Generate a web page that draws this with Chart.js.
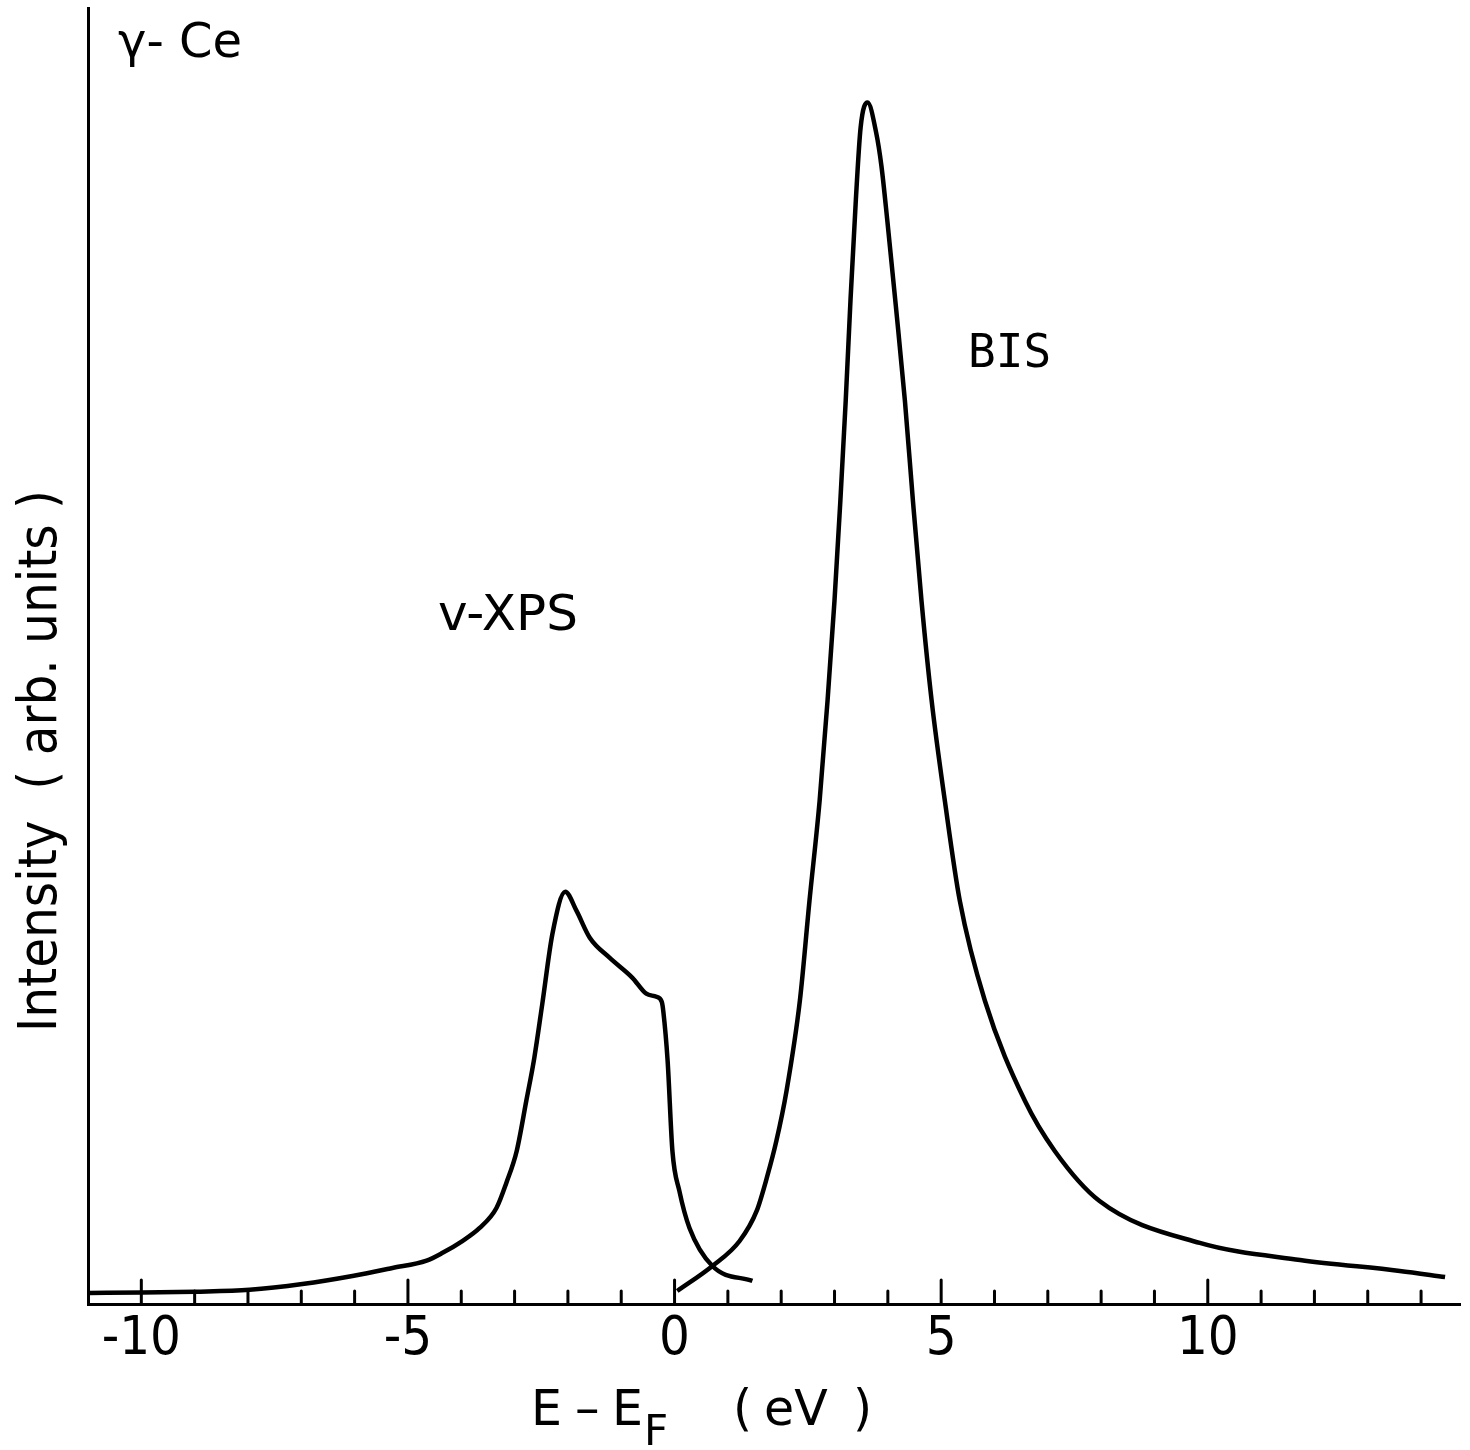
<!DOCTYPE html>
<html><head><meta charset="utf-8">
<script src="https://cdn.jsdelivr.net/npm/chart.js@4/dist/chart.umd.min.js"></script>
<style>html,body{margin:0;padding:0;background:#fff;} #c{display:block;}</style>
</head><body>
<canvas id="c" width="1470" height="1450"></canvas>
<script>
// ---- data ----
const xpsEnergy = [-10.98, -9.98, -8.99, -7.97, -6.98, -6.04, -5.29, -4.65, -4.35, -3.98, -3.66, -3.34, -3.15, -2.96, -2.78, -2.63, -2.48, -2.29, -2.05, -1.84, -1.59, -1.22, -0.79, -0.53, -0.34, -0.24, -0.21, -0.13, -0.04, 0.09, 0.28, 0.71, 1.46];
const xpsIntensity = [0.85, 0.88, 0.95, 1.10, 1.54, 2.16, 2.78, 3.35, 3.95, 4.86, 5.85, 7.41, 9.40, 11.81, 15.68, 19.00, 23.17, 28.57, 31.81, 30.35, 28.26, 26.72, 25.17, 23.94, 23.71, 23.32, 22.55, 18.76, 11.81, 8.73, 5.87, 2.93, 1.78];

const bisEnergy = [0.05, 0.71, 1.22, 1.54, 1.74, 1.91, 2.10, 2.35, 2.53, 2.72, 2.87, 3.00, 3.11, 3.21, 3.30, 3.40, 3.49, 3.62, 3.78, 3.88, 3.99, 4.15, 4.32, 4.47, 4.63, 4.82, 5.07, 5.35, 5.82, 6.57, 7.13, 7.97, 9.85, 11.73, 13.60, 14.45];
const bisIntensity = [1.0, 2.93, 4.86, 7.18, 9.88, 12.59, 16.45, 23.4, 31.1, 38.8, 46.6, 54.3, 62.0, 69.7, 77.5, 85.2, 90.8, 92.7, 90.4, 87.8, 83.6, 77.0, 69.7, 62.0, 54.3, 46.6, 38.8, 31.1, 23.4, 15.68, 11.81, 7.95, 4.71, 3.40, 2.55, 2.08];

const tickValues = [-10,-9,-8,-7,-6,-5,-4,-3,-2,-1,0,1,2,3,4,5,6,7,8,9,10,11,12,13,14];
const tickLabels = [-10,-5,0,5,10];
const majorTicks = [-10,-5,0,5,10];

const SANS = "'DejaVu Sans', sans-serif";
const COND = "'DejaVu Sans Condensed', 'DejaVu Sans', sans-serif";
const NARROW = "'Liberation Sans Narrow', 'DejaVu Sans Condensed', sans-serif";

const inwardTicks = {
  id: 'inwardTicks',
  afterDraw(chart) {
    const xs = chart.scales.x, ctx = chart.ctx;
    ctx.save();
    ctx.strokeStyle = '#000'; ctx.lineWidth = 3; ctx.lineCap = 'round';
    xs.ticks.forEach(t => {
      const px = xs.getPixelForValue(t.value);
      const len = majorTicks.includes(t.value) ? 24 : 13;
      ctx.beginPath(); ctx.moveTo(px, xs.top); ctx.lineTo(px, xs.top - len); ctx.stroke();
    });
    ctx.restore();
  }
};

const textPlugin = {
  id: 'texts',
  afterDraw(chart) {
    const ctx = chart.ctx;
    ctx.save();
    ctx.fillStyle = '#000';
    ctx.textBaseline = 'alphabetic';
    ctx.textAlign = 'left';
    // labels inside plot
    ctx.font = '48px ' + SANS;
    ctx.fillText('γ- Ce', 118, 57, 128);
    ctx.font = '50px ' + SANS;
    ctx.fillText('v-XPS', 438, 630, 150);
    ctx.font = '46px ' + "'DejaVu Sans Mono', monospace";
    ctx.fillText('BIS', 968, 367, 90);
    // x title
    ctx.font = '49px ' + SANS;
    ctx.fillText('E', 531, 1425);
    ctx.fillText('–', 575, 1425);
    ctx.fillText('E', 612, 1425);
    ctx.font = '42px ' + SANS;
    ctx.fillText('F', 644, 1445);
    ctx.font = '49px ' + SANS;
    ctx.fillText('(', 733, 1425);
    ctx.fillText('eV', 764, 1425);
    ctx.fillText(')', 853, 1425);
    // y title
    ctx.translate(56, 1032);
    ctx.rotate(-Math.PI / 2);
    ctx.font = '54px ' + COND;
    ctx.fillText('Intensity  ( arb. units )', 0, 0, 565);
    ctx.restore();
  }
};

new Chart(document.getElementById('c').getContext('2d'), {
  type: 'line',
  data: {
    datasets: [
      { label: 'v-XPS', data: xpsEnergy.map((x, i) => ({ x, y: xpsIntensity[i] })),
        borderColor: '#000', borderWidth: 4.5, pointRadius: 0, fill: false, cubicInterpolationMode: 'monotone' },
      { label: 'BIS', data: bisEnergy.map((x, i) => ({ x, y: bisIntensity[i] })),
        borderColor: '#000', borderWidth: 4.5, pointRadius: 0, fill: false, cubicInterpolationMode: 'monotone' }
    ]
  },
  options: {
    responsive: false, animation: false, devicePixelRatio: 1,
    layout: { padding: { top: 8, right: 10, left: 0, bottom: 0 } },
    plugins: { legend: { display: false }, tooltip: { enabled: false } },
    scales: {
      x: {
        type: 'linear', min: -11, max: 14.73,
        grid: { display: false, drawTicks: false },
        border: { display: true, color: '#000', width: 3 },
        afterBuildTicks: s => { s.ticks = tickValues.map(v => ({ value: v })); },
        afterFit: s => { s.height = 146; },
        ticks: {
          autoSkip: false, maxRotation: 0, minRotation: 0, padding: 4, color: '#000',
          font: { family: NARROW, size: 54 },
          callback: v => tickLabels.includes(v) ? (v < 0 ? '-' + Math.abs(v) : String(v)) : ''
        }
      },
      y: {
        min: 0, max: 100,
        grid: { display: false, drawTicks: false },
        border: { display: true, color: '#000', width: 3 },
        ticks: { display: false },
        afterFit: s => { s.width = 88; }
      }
    }
  },
  plugins: [inwardTicks, textPlugin]
});
</script>
</body></html>
